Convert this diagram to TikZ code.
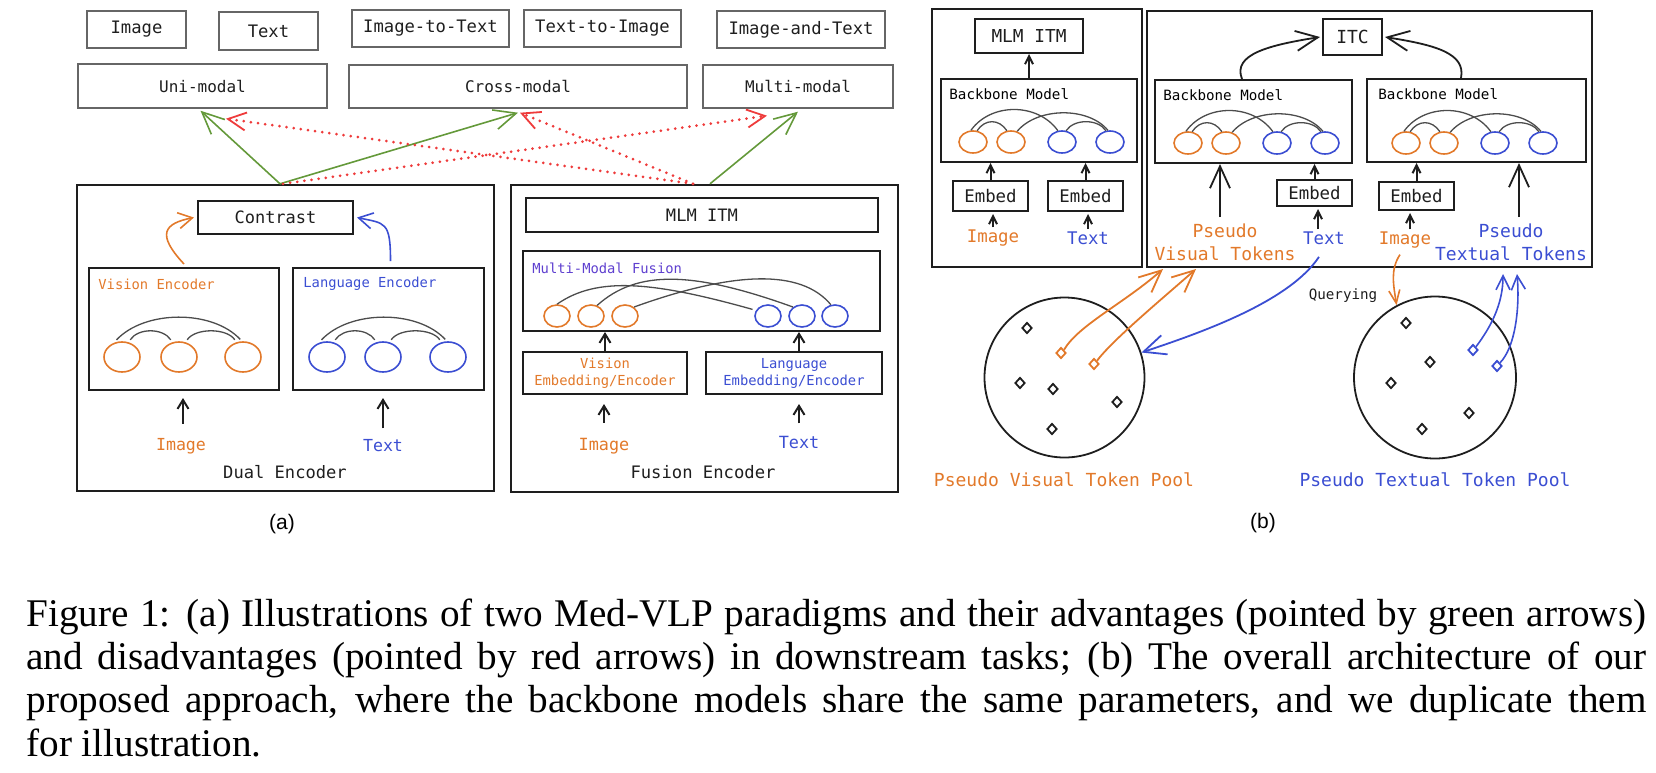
\documentclass[tikz,border=0pt]{standalone}
\usepackage{fontspec}
\setmainfont{Liberation Serif}
\setsansfont{Liberation Sans}
\setmonofont{DejaVu Sans Mono}
\usepackage{tikz}
\usetikzlibrary{arrows.meta}
\usetikzlibrary{shapes.geometric}
\definecolor{ink}{HTML}{1E1E1E}
\definecolor{vor}{HTML}{E2792A}
\definecolor{lbl}{HTML}{3B4ED2}
\definecolor{fus}{HTML}{5E3FCF}
\definecolor{goodgreen}{HTML}{64993A}
\definecolor{badred}{HTML}{EE3B3B}
\newcommand{\mono}[2]{\ttfamily\fontsize{#1}{#2}\selectfont}
\tikzset{
  taskbox/.style={draw=black!60, line width=0.7pt, inner sep=0pt, text=ink},
  blk/.style={draw=ink, line width=1pt, inner sep=0pt, text=ink},
  lab/.style={inner sep=1pt},
  tok/.style={ellipse, inner sep=0pt, line width=0.8pt},
  attn/.style={draw=black!70, line width=0.65pt},
  tkn/.style={diamond, draw=ink, line width=0.9pt, inner sep=0pt, minimum width=5pt, minimum height=5.5pt},
  gooda/.style={draw=goodgreen, line width=0.8pt, -{Straight Barb[length=11pt,width=10pt]}},
  bada/.style={draw=badred, line width=1.5pt, dash pattern=on 0pt off 3.6pt, line cap=round, -{Straight Barb[length=9pt,width=9pt,line width=0.9pt]}},
  uparr/.style={draw=ink, line width=1pt, -{Straight Barb[length=4.5pt,width=5.5pt]}},
  bigarr/.style={line width=0.9pt, -{Straight Barb[length=11pt,width=10pt]}},
  midarr/.style={line width=0.8pt, -{Straight Barb[length=7pt,width=7pt]}},
}
% four tokens of a backbone model: prefix, x of first token, y
\newcommand{\bbtokens}[3]{%
  \foreach \dx/\c [count=\i] in {0/vor,38/vor,89/lbl,137/lbl}
    \node[tok, draw=\c, minimum width=14pt, minimum height=11pt] (#1\i) at (#2+\dx,#3) {};
  \draw[attn] (#11.100) .. controls +(20,-28) and +(-20,-28) .. (#13.110);
  \draw[attn] (#12.60) .. controls +(20,-24) and +(-20,-24) .. (#14.100);
  \draw[attn] (#11.70) .. controls +(8,-12) and +(-8,-12) .. (#12.110);
  \draw[attn] (#13.70) .. controls +(8,-12) and +(-8,-12) .. (#14.110);
}

\begin{document}
\begin{tikzpicture}[x=0.5pt, y=-0.5pt]
\useasboundingbox (0,0) rectangle (1656,772);

%% (a) downstream tasks
\node[taskbox, minimum width=49.5pt, minimum height=18.5pt, font=\mono{8.6}{10}] (tImg) at (136.5,29.5) {Image};
\node[taskbox, minimum width=49.5pt, minimum height=19pt, font=\mono{8.6}{10}] (tTxt) at (268.5,31) {Text};
\node[taskbox, minimum width=78.5pt, minimum height=18.5pt, font=\mono{8.6}{10}] (tI2T) at (430.5,28.5) {Image-to-Text};
\node[taskbox, minimum width=78.5pt, minimum height=18.5pt, font=\mono{8.6}{10}] (tT2I) at (602.5,28.5) {Text-to-Image};
\node[taskbox, minimum width=84pt, minimum height=18.5pt, font=\mono{8.6}{10}] (tIaT) at (801,29.5) {Image-and-Text};
\node[taskbox, minimum width=124.5pt, minimum height=22pt, font=\mono{8}{10}] (uni) at (202.5,86) {Uni-modal};
\node[taskbox, minimum width=169pt, minimum height=21.5pt, font=\mono{8}{10}] (cross) at (518,86.5) {Cross-modal};
\node[taskbox, minimum width=95pt, minimum height=21.5pt, font=\mono{8}{10}] (multi) at (798,86.5) {Multi-modal};

%% dual encoder
\node[blk, line width=1.2pt, minimum width=208.5pt, minimum height=153pt] (dual) at (285.5,338) {};
\node[blk, minimum width=77.5pt, minimum height=16.5pt, font=\mono{8.5}{10}] (contrast) at (275.5,217.5) {Contrast};
\node[blk, minimum width=95pt, minimum height=61pt] (visenc) at (184,329) {};
\node[blk, minimum width=95.5pt, minimum height=61pt] (lanenc) at (388.5,329) {};
\node[lab, inner sep=0pt, anchor=west, text=vor, font=\mono{6.9}{8}] (visenclab) at (98,284) {Vision Encoder};
\node[lab, inner sep=0pt, anchor=west, text=lbl, font=\mono{6.9}{8}] (lanenclab) at (303,284) {Language Encoder};
\foreach \x [count=\i] in {122,179,243}
  \node[tok, draw=vor, minimum width=18pt, minimum height=15pt] (dv\i) at (\x,357) {};
\foreach \x [count=\i] in {327,383,448}
  \node[tok, draw=lbl, minimum width=18pt, minimum height=15pt] (dl\i) at (\x,357) {};
\foreach \p in {dv,dl} {
  \draw[attn] ([yshift=1pt]\p1.110) .. controls +(28,-30) and +(-28,-30) .. ([yshift=1pt]\p3.100);
  \draw[attn] ([yshift=1.5pt]\p1.60) .. controls +(8,-12) and +(-8,-12) .. ([yshift=1.5pt]\p2.120);
  \draw[attn] ([yshift=1.5pt]\p2.60) .. controls +(8,-12) and +(-8,-12) .. ([yshift=1.5pt]\p3.120);
}
\draw[vor, line width=0.8pt, -{Straight Barb[length=7pt,width=8pt]}] ([yshift=1.5pt]visenc.north) .. controls +(-28,-30) and +(-30,6) .. ([xshift=-1.5pt]contrast.west);
\draw[lbl, line width=0.8pt, -{Straight Barb[length=7pt,width=8pt]}] ([xshift=1pt,yshift=3pt]lanenc.north) .. controls +(0,-40) and +(28,6) .. ([xshift=1.5pt]contrast.east);
\node[lab, text=vor, font=\mono{8.3}{10}] (dImg) at (181,446) {Image};
\node[lab, text=lbl, font=\mono{8.3}{10}] (dTxt) at (383,446) {Text};
\node[lab, text=ink, font=\mono{8.55}{10}] (dualname) at (285,472) {Dual Encoder};
\draw[uparr, shorten <=6pt, shorten >=3.5pt] ([xshift=1pt]dImg.north) -- ([xshift=1pt]dImg.north |- visenc.south);
\draw[uparr, shorten <=4.5pt, shorten >=3.5pt] (dTxt.north) -- (dTxt.north |- lanenc.south);

%% fusion encoder
\node[blk, line width=1.2pt, minimum width=193.5pt, minimum height=153.5pt] (fusion) at (704.5,338.5) {};
\node[blk, minimum width=176pt, minimum height=17pt, font=\mono{8.55}{10}] (fmlm) at (702,215) {MLM ITM};
\node[blk, minimum width=178.5pt, minimum height=40pt] (mmf) at (701.5,291) {};
\node[lab, inner sep=0pt, anchor=west, text=fus, font=\mono{6.9}{8}] (mmflab) at (532,268) {Multi-Modal Fusion};
\foreach \x [count=\i] in {557,591,625}
  \node[tok, draw=vor, minimum width=13pt, minimum height=11pt] (fv\i) at (\x,316) {};
\foreach \x [count=\i] in {768,802,835}
  \node[tok, draw=lbl, minimum width=13pt, minimum height=11pt] (fl\i) at (\x,316) {};
\draw[attn] (fv1.north) .. controls +(40,-28) and +(-100,-28) .. ([xshift=-2pt]fl1.150);
\draw[attn] (fv2.60) .. controls +(40,-36) and +(-100,-36) .. (fl2.135);
\draw[attn] (fv3.45) .. controls +(100,-36) and +(-30,-36) .. (fl3.110);
\node[blk, minimum width=82pt, minimum height=21pt, align=center, text=vor, font=\mono{6.9}{8.5}] (vemb) at (605,373) {Vision\\Embedding/Encoder};
\node[blk, minimum width=88pt, minimum height=21pt, align=center, text=lbl, font=\mono{6.9}{8.5}] (lemb) at (794,373) {Language\\Embedding/Encoder};
\draw[uparr] (vemb.north) -- (vemb.north |- mmf.south);
\draw[uparr] ([xshift=2.5pt]lemb.north) -- ([xshift=2.5pt]lemb.north |- mmf.south);
\node[lab, text=vor, font=\mono{8.4}{10}] (fImg) at (604,446) {Image};
\node[lab, text=lbl, font=\mono{8.4}{10}] (fTxt) at (799,442) {Text};
\node[lab, text=ink, font=\mono{8.6}{10}] (fusionname) at (703,472) {Fusion Encoder};
\draw[uparr, shorten <=6.5pt, shorten >=4.5pt] (fImg.north) -- (fImg.north |- vemb.south);
\draw[uparr, shorten <=5pt, shorten >=4.5pt] (fTxt.north) -- (fTxt.north |- lemb.south);

%% good (green) and bad (red) for the tasks
\draw[gooda] ([xshift=-2.75pt]dual.north) -- ([xshift=-1pt,yshift=-1pt]uni.south);
\draw[gooda] ([xshift=-2.75pt]dual.north) -- ([yshift=-2pt]cross.south);
\draw[bada] ([xshift=-1.25pt]dual.north) -- ([xshift=-15.5pt,yshift=-3.5pt]multi.south);
\draw[bada] ([xshift=-5.75pt]fusion.north) -- ([xshift=11.75pt,yshift=-5pt]uni.south);
\draw[bada] ([xshift=-5.75pt]fusion.north) -- ([xshift=1pt,yshift=-2pt]cross.south);
\draw[gooda] ([xshift=2.75pt]fusion.north) -- ([yshift=-1.5pt]multi.south);
\node[font=\sffamily\fontsize{10.5}{12}\selectfont] (capa) at (282,524) {(a)};

%% (b) pre-training with MLM ITM
\node[blk, line width=1.2pt, minimum width=105pt, minimum height=129pt] (pre) at (1037,138) {};
\node[blk, minimum width=54pt, minimum height=17pt, font=\mono{8.9}{10}] (lmlm) at (1029,36) {MLM ITM};
\node[blk, minimum width=98pt, minimum height=41.5pt] (bb0) at (1039,120.5) {};
\node[lab, inner sep=0pt, anchor=west, font=\mono{7.1}{8}] (bb0lab) at (949,94) {Backbone Model};
\bbtokens{a}{973}{142}
\draw[uparr, -{Straight Barb[length=4pt,width=4pt]}] (lmlm.south |- bb0.north) -- (lmlm.south);
\node[blk, minimum width=37.5pt, minimum height=15pt, font=\mono{8.7}{10}] (ae1) at (990.5,196) {Embed};
\node[blk, minimum width=37.5pt, minimum height=15pt, font=\mono{8.7}{10}] (ae2) at (1085.5,196) {Embed};
\draw[uparr, -{Straight Barb[length=4pt,width=4pt]}] (ae1.north) -- (ae1.north |- bb0.south);
\draw[uparr, -{Straight Barb[length=4pt,width=4pt]}] (ae2.north) -- (ae2.north |- bb0.south);
\node[lab, text=vor, font=\mono{8.7}{10}] (aImg) at (993,238) {Image};
\node[lab, text=lbl, font=\mono{8.7}{10}] (aTxt) at (1088,238) {Text};
\draw[uparr, -{Straight Barb[length=4pt,width=4pt]}, shorten >=1pt] (aImg.north) -- (aImg.north |- ae1.south);
\draw[uparr, -{Straight Barb[length=4pt,width=4pt]}, shorten >=1pt] (aTxt.north) -- (aTxt.north |- ae2.south);

%% (b) ITC with pseudo tokens
\node[blk, line width=1.2pt, minimum width=222.5pt, minimum height=128pt] (ours) at (1369.5,139) {};
\node[blk, minimum width=29.5pt, minimum height=18pt, font=\mono{9}{10}] (itc) at (1352.5,37) {ITC};
\node[blk, minimum width=98.5pt, minimum height=41.5pt] (bbL) at (1253.5,121.5) {};
\node[blk, minimum width=109.5pt, minimum height=41.5pt] (bbR) at (1476.5,120.5) {};
\node[lab, inner sep=0pt, anchor=west, font=\mono{7.1}{8}] (bbLlab) at (1163,95) {Backbone Model};
\node[lab, inner sep=0pt, anchor=west, font=\mono{7.1}{8}] (bbRlab) at (1378,94) {Backbone Model};
\bbtokens{b}{1188}{143}
\bbtokens{c}{1406}{143}
\draw[ink, bigarr] ([xshift=-5.75pt]bbL.north) .. controls +(-10,-25) and +(-50,8) .. ([xshift=-1pt]itc.west);
\draw[ink, bigarr] ([xshift=-7.75pt]bbR.north) .. controls +(5,-25) and +(50,8) .. ([xshift=1pt]itc.east);
\node[blk, minimum width=37.5pt, minimum height=13pt, font=\mono{8.7}{10}] (be1) at (1314.5,193) {Embed};
\node[blk, minimum width=37.5pt, minimum height=14pt, font=\mono{8.7}{10}] (be2) at (1416.5,196) {Embed};
\draw[uparr, -{Straight Barb[length=4pt,width=4pt]}] (be1.north) -- (be1.north |- bbL.south);
\draw[uparr, -{Straight Barb[length=4pt,width=4pt]}] (be2.north) -- (be2.north |- bbR.south);
\node[lab, align=center, text=vor, font=\mono{9}{11.5}] (pvt) at (1225,242) {Pseudo\\Visual Tokens};
\node[lab, text=lbl, font=\mono{8.7}{10}] (bTxt) at (1324,238) {Text};
\node[lab, text=vor, font=\mono{8.7}{10}] (bImg) at (1405,240) {Image};
\node[lab, align=center, text=lbl, font=\mono{9}{11.5}] (ptt) at (1511,242) {Pseudo\\Textual Tokens};
\draw[ink, bigarr, shorten <=2pt] ([xshift=-2.5pt]pvt.north) -- ([xshift=-2.5pt]pvt.north |- bbL.south);
\draw[ink, bigarr, shorten <=2pt] ([xshift=4pt]ptt.north) -- ([xshift=4pt]ptt.north |- bbR.south);
\draw[uparr, -{Straight Barb[length=4pt,width=4pt]}, shorten >=1pt] ([xshift=-3pt]bTxt.north) -- ([xshift=-3pt]bTxt.north |- be1.south);
\draw[uparr, -{Straight Barb[length=4pt,width=4pt]}, shorten >=1pt] ([xshift=2.5pt]bImg.north) -- ([xshift=2.5pt]bImg.north |- be2.south);

%% token pools
\node[circle, draw=ink, line width=0.9pt, minimum size=80pt, inner sep=0pt] (poolV) at (1064.5,377.5) {};
\node[circle, draw=ink, line width=0.9pt, minimum size=81pt, inner sep=0pt] (poolT) at (1435,377.5) {};
\foreach \x/\y [count=\i] in {1027/328,1020/383,1053/389,1117/402,1052/429}
  \node[tkn] (pv\i) at (\x,\y) {};
\foreach \x/\y [count=\i] in {1406/323,1430/362,1391/383,1469/413,1422/429}
  \node[tkn] (pt\i) at (\x,\y) {};
\node[tkn, draw=vor] (pvo1) at (1061,353) {};
\node[tkn, draw=vor] (pvo2) at (1094,364) {};
\node[tkn, draw=lbl] (ptb1) at (1473,350) {};
\node[tkn, draw=lbl] (ptb2) at (1497,366) {};
\coordinate (pvtin1) at (1163,269);
\coordinate (pvtin2) at (1196,269);
\coordinate (pttin1) at (1503,274);
\coordinate (pttin2) at (1517,274);
\draw[vor, bigarr] (pvo1.north east) .. controls +(15,-25) and +(-40,35) .. (pvtin1);
\draw[vor, bigarr] (pvo2.north east) .. controls +(15,-20) and +(-40,35) .. (pvtin2);
\draw[lbl, midarr] (ptb1.north east) .. controls +(15,-20) and +(0,30) .. (pttin1);
\draw[lbl, midarr] (ptb2.north east) .. controls +(15,-15) and +(3,35) .. (pttin2);
\draw[lbl, bigarr] ([xshift=-2.5pt,yshift=-5pt]bTxt.south) .. controls +(-30,45) and +(60,-20) .. (poolV.18);
\draw[vor, line width=0.8pt, -{Straight Barb[length=6.5pt,width=5.5pt]}] ([xshift=-2.5pt,yshift=-2pt]bImg.south) .. controls +(-10,15) and +(-3,-20) .. (poolT.118);
\node[lab, font=\mono{7.1}{8}, text=ink] (query) at (1343,296) {Querying};
\node[lab, text=vor, font=\mono{9}{10}] (poolVlab) at (1064,480) {Pseudo Visual Token Pool};
\node[lab, text=lbl, font=\mono{9}{10}] (poolTlab) at (1435,480) {Pseudo Textual Token Pool};
\node[font=\sffamily\fontsize{10.5}{12}\selectfont] (capb) at (1263,523) {(b)};

%% caption
\node[anchor=north west, inner sep=0pt, text width=810pt, align=justify,
      font=\rmfamily\fontsize{19.6}{21.7}\selectfont] (caption) at (26,598)
  {\hyphenpenalty=10000\exhyphenpenalty=10000\tolerance=10000
   Figure 1: (a) Illustrations of two Med-VLP paradigms and their advantages (pointed by green arrows)\linebreak
   and disadvantages (pointed by red arrows) in downstream tasks; (b) The overall architecture of our\linebreak
   proposed approach, where the backbone models share the same parameters, and we duplicate them\linebreak
   for illustration.};
\end{tikzpicture}
\end{document}
